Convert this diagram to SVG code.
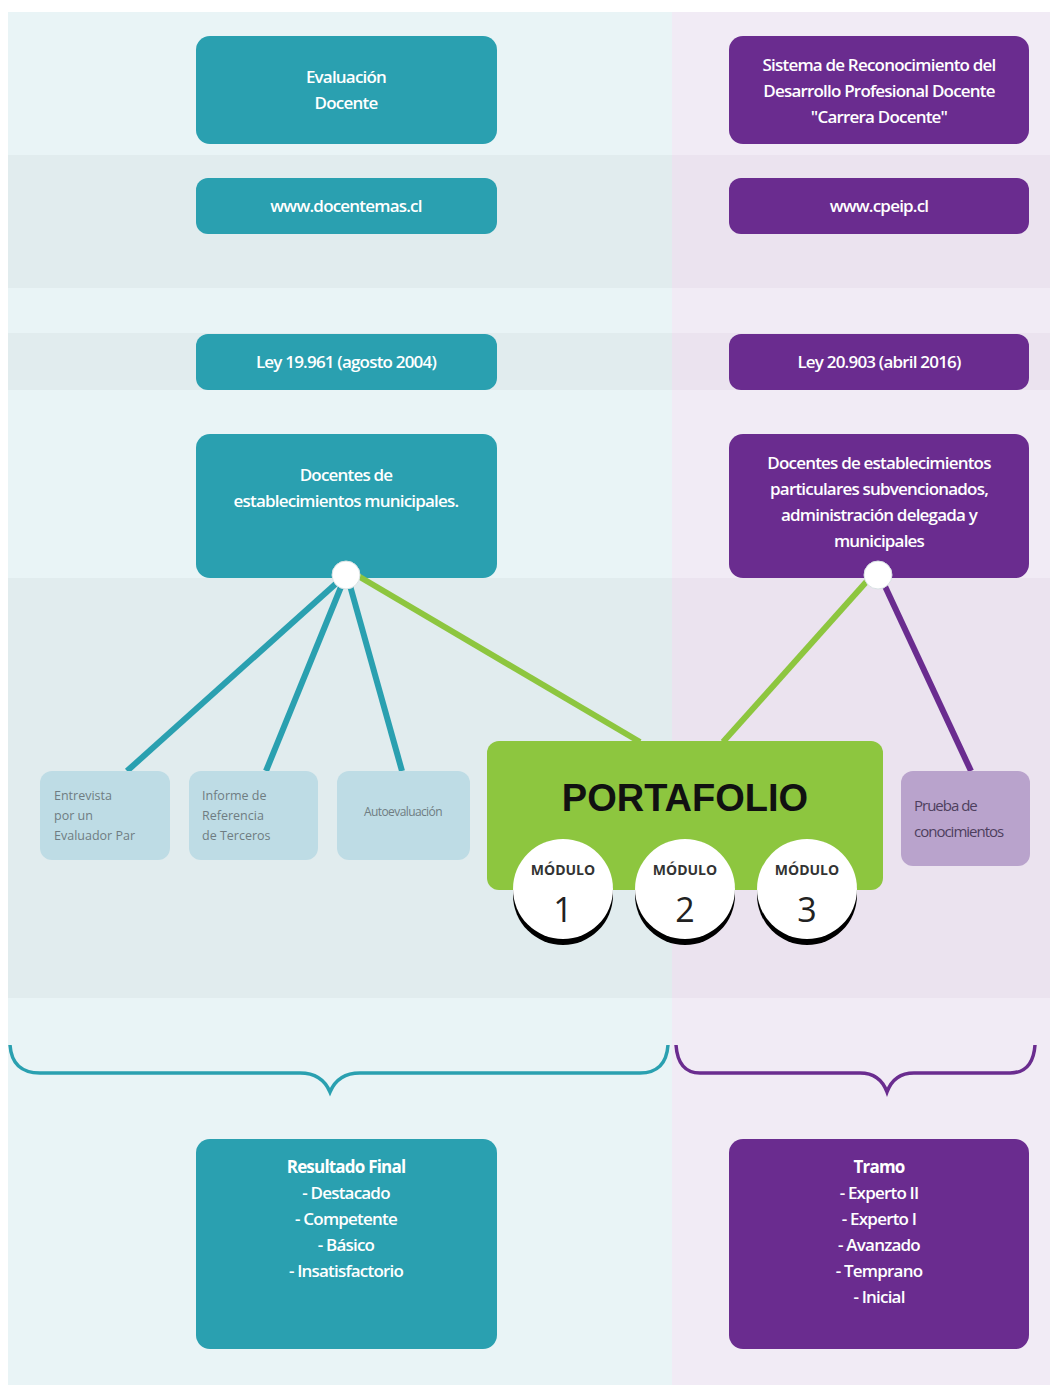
<svg xmlns="http://www.w3.org/2000/svg" width="1050" height="1385" viewBox="0 0 1050 1385">
<defs>
<style>
.tb{fill:#2aa0b0}
.pb{fill:#6a2c8f}
.wt{font-family:"Open Sans","Liberation Sans",sans-serif;font-size:17px;font-weight:600;fill:#ffffff;text-anchor:middle;letter-spacing:-0.8px}
.sm{font-family:"Open Sans","Liberation Sans",sans-serif;font-size:12.5px;fill:#6f7d82}
.cn{stroke-width:6;fill:none;stroke-linecap:butt}
.hub{fill:#ffffff;stroke:#d9e2e4;stroke-width:1}
.mt{font-family:"Open Sans","Liberation Sans",sans-serif;font-weight:bold;font-size:14px;fill:#333;text-anchor:middle}
.mn{font-family:"Open Sans","Liberation Sans",sans-serif;font-size:34px;fill:#222;text-anchor:middle}
</style>
</defs>
<rect x="0" y="0" width="1050" height="1385" fill="#ffffff"/>
<g id="background">
<rect x="8" y="12" width="664" height="1373" fill="#e9f4f6"/>
<rect x="672" y="12" width="378" height="1373" fill="#f1ebf5"/>
<rect x="8" y="155" width="664" height="133" fill="#e1ecee"/>
<rect x="672" y="155" width="378" height="133" fill="#ebe3ef"/>
<rect x="8" y="333" width="664" height="57" fill="#e1ecee"/>
<rect x="672" y="333" width="378" height="57" fill="#ebe3ef"/>
<rect x="8" y="578" width="664" height="420" fill="#e1ecee"/>
<rect x="672" y="578" width="378" height="420" fill="#ebe3ef"/>
</g>
<g id="n-evaluacion"><rect class="tb" x="196" y="36" width="301" height="108" rx="14"/>
<text class="wt" x="346" y="83">Evaluación</text><text class="wt" x="346" y="109">Docente</text></g>
<g id="n-sistema"><rect class="pb" x="729" y="36" width="300" height="108" rx="14"/>
<text class="wt" x="879" y="71">Sistema de Reconocimiento del</text><text class="wt" x="879" y="97">Desarrollo Profesional Docente</text><text class="wt" x="879" y="123">"Carrera Docente"</text></g>
<g id="n-url1"><rect class="tb" x="196" y="178" width="301" height="56" rx="12"/><text class="wt" x="346" y="212">www.docentemas.cl</text></g>
<g id="n-url2"><rect class="pb" x="729" y="178" width="300" height="56" rx="12"/><text class="wt" x="879" y="212">www.cpeip.cl</text></g>
<g id="n-ley1"><rect class="tb" x="196" y="334" width="301" height="56" rx="12"/><text class="wt" x="346" y="368">Ley 19.961 (agosto 2004)</text></g>
<g id="n-ley2"><rect class="pb" x="729" y="334" width="300" height="56" rx="12"/><text class="wt" x="879" y="368">Ley 20.903 (abril 2016)</text></g>
<g id="n-doc1"><rect class="tb" x="196" y="434" width="301" height="144" rx="14"/>
<text class="wt" x="346" y="481">Docentes de</text><text class="wt" x="346" y="507">establecimientos municipales.</text></g>
<g id="n-doc2"><rect class="pb" x="729" y="434" width="300" height="144" rx="14"/>
<text class="wt" x="879" y="469">Docentes de establecimientos</text><text class="wt" x="879" y="495">particulares subvencionados,</text><text class="wt" x="879" y="521">administración delegada y</text><text class="wt" x="879" y="547">municipales</text></g>
<g id="connectors">
<line class="cn" stroke="#2aa0b0" x1="340" y1="580" x2="127" y2="771"/>
<line class="cn" stroke="#2aa0b0" x1="343" y1="582" x2="266" y2="771"/>
<line class="cn" stroke="#2aa0b0" x1="349" y1="582" x2="402" y2="771"/>
<line class="cn" stroke="#8dc63f" x1="348" y1="570" x2="640" y2="742"/>
<line class="cn" stroke="#8dc63f" x1="876" y1="571" x2="723" y2="742"/>
<line class="cn" stroke="#6a2c8f" x1="883" y1="582" x2="971" y2="771"/>
<path d="M10 1045 Q12 1073 40 1073 L300 1073 Q322 1073 330 1092 Q338 1073 360 1073 L640 1073 Q666 1073 668 1045" fill="none" stroke="#2aa0b0" stroke-width="3.5"/>
<path d="M676 1045 Q678 1073 700 1073 L860 1073 Q880 1073 887 1092 Q894 1073 914 1073 L1010 1073 Q1033 1073 1035 1045" fill="none" stroke="#6a2c8f" stroke-width="3.5"/>
</g>
<g id="hub1"><circle class="hub" cx="346" cy="575" r="14"/></g>
<g id="hub2"><circle class="hub" cx="878" cy="575" r="14"/></g>
<g id="n-entrevista"><rect x="40" y="771" width="130" height="89" rx="12" fill="#bedce5"/>
<text class="sm" x="54" y="800">Entrevista</text><text class="sm" x="54" y="820">por un</text><text class="sm" x="54" y="840">Evaluador Par</text></g>
<g id="n-informe"><rect x="189" y="771" width="129" height="89" rx="12" fill="#bedce5"/>
<text class="sm" x="202" y="800">Informe de</text><text class="sm" x="202" y="820">Referencia</text><text class="sm" x="202" y="840">de Terceros</text></g>
<g id="n-auto"><rect x="337" y="771" width="133" height="89" rx="12" fill="#bedce5"/>
<text class="sm" x="403" y="816" text-anchor="middle" style="font-size:12px;letter-spacing:-0.6px">Autoevaluación</text></g>
<g id="n-prueba"><rect x="901" y="771" width="129" height="95" rx="12" fill="#b9a3cc"/>
<text class="sm" x="914" y="811" style="font-size:15px;letter-spacing:-1px;fill:#4e3f5e">Prueba de</text><text class="sm" x="914" y="837" style="font-size:15px;letter-spacing:-1px;fill:#4e3f5e">conocimientos</text></g>
<g id="n-portafolio"><rect x="487" y="741" width="396" height="149" rx="12" fill="#8dc63f"/>
<text x="685" y="811" text-anchor="middle" style="font-family:'Liberation Sans',Arial,sans-serif;font-weight:bold;font-size:38px;fill:#111">PORTAFOLIO</text>
<g id="modulo1"><circle cx="563" cy="895" r="50" fill="#000"/><circle cx="563" cy="889" r="50" fill="#fff"/><text class="mt" x="563" y="875">MÓDULO</text><text class="mn" x="563" y="922">1</text></g>
<g id="modulo2"><circle cx="685" cy="895" r="50" fill="#000"/><circle cx="685" cy="889" r="50" fill="#fff"/><text class="mt" x="685" y="875">MÓDULO</text><text class="mn" x="685" y="922">2</text></g>
<g id="modulo3"><circle cx="807" cy="895" r="50" fill="#000"/><circle cx="807" cy="889" r="50" fill="#fff"/><text class="mt" x="807" y="875">MÓDULO</text><text class="mn" x="807" y="922">3</text></g>
</g>
<g id="n-resultado"><rect class="tb" x="196" y="1139" width="301" height="210" rx="14"/>
<text class="wt" x="346" y="1173" style="font-weight:bold">Resultado Final</text>
<text class="wt" x="346" y="1199">- Destacado</text><text class="wt" x="346" y="1225">- Competente</text><text class="wt" x="346" y="1251">- Básico</text><text class="wt" x="346" y="1277">- Insatisfactorio</text></g>
<g id="n-tramo"><rect class="pb" x="729" y="1139" width="300" height="210" rx="14"/>
<text class="wt" x="879" y="1173" style="font-weight:bold">Tramo</text>
<text class="wt" x="879" y="1199">- Experto II</text><text class="wt" x="879" y="1225">- Experto I</text><text class="wt" x="879" y="1251">- Avanzado</text><text class="wt" x="879" y="1277">- Temprano</text><text class="wt" x="879" y="1303">- Inicial</text></g>
</svg>
